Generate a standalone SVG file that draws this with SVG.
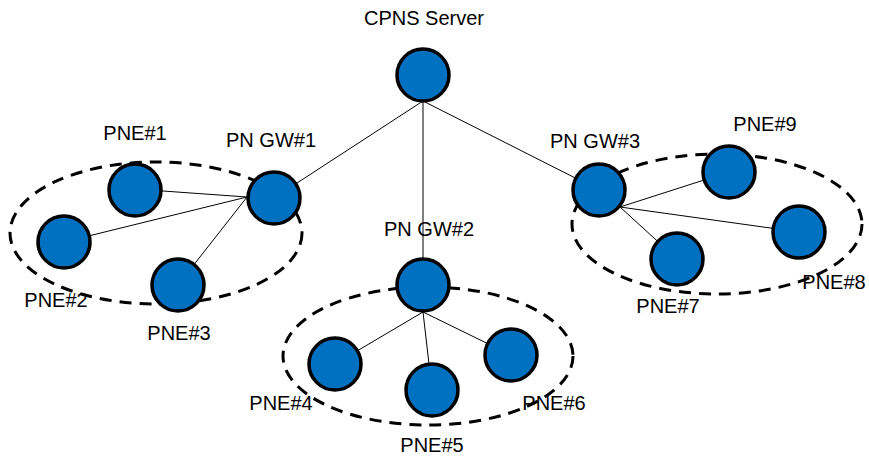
<svg xmlns="http://www.w3.org/2000/svg" width="869" height="456" viewBox="0 0 869 456">
<style>
.bg{fill:#ffffff}
.cluster{fill:none;stroke:#000;stroke-width:3;stroke-dasharray:12 8}
.link{stroke:#000;stroke-width:1;fill:none}
.node circle{fill:#0070C0;stroke:#000;stroke-width:3.5}
.node text{font-family:"Liberation Sans",Arial,sans-serif;font-size:20px;fill:#000}
</style>
<rect class="bg" x="0" y="0" width="869" height="456"/>
<g id="clusters">
<ellipse class="cluster" cx="156" cy="233" rx="146" ry="71"/>
<ellipse class="cluster" cx="428" cy="356" rx="145" ry="69"/>
<ellipse class="cluster" cx="717" cy="224" rx="145" ry="70"/>
</g>
<g id="connectors">
<line class="link" x1="423" y1="101" x2="274" y2="198"/>
<line class="link" x1="423" y1="101" x2="423" y2="285"/>
<line class="link" x1="423" y1="101" x2="599" y2="190"/>
<line class="link" x1="247" y1="197" x2="135" y2="189"/>
<line class="link" x1="247" y1="197" x2="64" y2="242"/>
<line class="link" x1="247" y1="197" x2="178" y2="285"/>
<line class="link" x1="423" y1="312" x2="335" y2="364"/>
<line class="link" x1="423" y1="312" x2="432" y2="390"/>
<line class="link" x1="423" y1="312" x2="511" y2="355"/>
<line class="link" x1="620" y1="207" x2="729" y2="172"/>
<line class="link" x1="620" y1="207" x2="799" y2="232"/>
<line class="link" x1="620" y1="207" x2="677" y2="259"/>
</g>
<g id="cpns-server" class="node"><circle cx="423" cy="75" r="26"/><text x="424" y="25" text-anchor="middle">CPNS Server</text></g>
<g id="pn-gw1" class="node"><circle cx="274" cy="198" r="26"/><text x="271" y="147" text-anchor="middle">PN GW#1</text></g>
<g id="pn-gw2" class="node"><circle cx="423" cy="285" r="26"/><text x="429" y="236" text-anchor="middle">PN GW#2</text></g>
<g id="pn-gw3" class="node"><circle cx="599" cy="190" r="26"/><text x="595" y="148" text-anchor="middle">PN GW#3</text></g>
<g id="pne1" class="node"><circle cx="135" cy="190" r="26"/><text x="135" y="140" text-anchor="middle">PNE#1</text></g>
<g id="pne2" class="node"><circle cx="64" cy="242" r="26"/><text x="56" y="307" text-anchor="middle">PNE#2</text></g>
<g id="pne3" class="node"><circle cx="178" cy="285" r="26"/><text x="179" y="340" text-anchor="middle">PNE#3</text></g>
<g id="pne4" class="node"><circle cx="335" cy="364" r="26"/><text x="281" y="410" text-anchor="middle">PNE#4</text></g>
<g id="pne5" class="node"><circle cx="432" cy="390" r="26"/><text x="432" y="452" text-anchor="middle">PNE#5</text></g>
<g id="pne6" class="node"><circle cx="511" cy="355" r="26"/><text x="554" y="410" text-anchor="middle">PNE#6</text></g>
<g id="pne7" class="node"><circle cx="677" cy="259" r="26"/><text x="668" y="313" text-anchor="middle">PNE#7</text></g>
<g id="pne8" class="node"><circle cx="799" cy="232" r="26"/><text x="834" y="289" text-anchor="middle">PNE#8</text></g>
<g id="pne9" class="node"><circle cx="729" cy="172" r="26"/><text x="765" y="131" text-anchor="middle">PNE#9</text></g>
</svg>
